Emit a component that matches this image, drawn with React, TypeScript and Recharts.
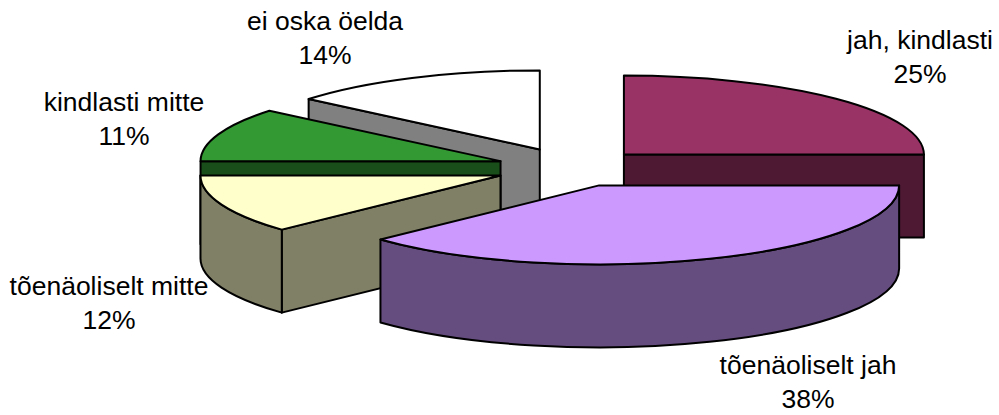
import { PieChart, Pie } from 'recharts';

const categories = ['jah, kindlasti', 'tõenäoliselt jah', 'tõenäoliselt mitte', 'kindlasti mitte', 'ei oska öelda'];
const shares = [25, 38, 12, 11, 14];

// painter's order, back to front
const DRAW_ORDER = [4, 0, 3, 2, 1];
const TOP_COLORS = ['#993366', '#cc99ff', '#ffffcc', '#339933', '#ffffff'];
const WALL_COLORS = ['#4d1933', '#664d80', '#808066', '#194d19', '#808080'];
const EXPLODE = [72, 71, 78, 77, 78];
const LABEL_X = [920, 808, 109, 124, 325];
const LABEL_Y = [49, 374, 295, 111, 30];

const TILT = 79 / 300;
const DEPTH = 83;
const STROKE = 2;
const RAD = Math.PI / 180;

const data = categories.map((name, i) => ({ name, value: shares[i], idx: i }));

function renderSlice(props: any, layer: number) {
  const idx = props.idx ?? props.payload?.idx;
  if (idx !== layer) return <g />;
  const { cx, cy, outerRadius: R, startAngle, endAngle } = props;
  const mid = ((startAngle + endAngle) / 2) * RAD;
  const ax = cx + EXPLODE[idx] * Math.cos(mid);
  const ay = cy - EXPLODE[idx] * Math.sin(mid) * TILT;
  const pt = (deg: number, drop = 0) => [ax + R * Math.cos(deg * RAD), ay - R * TILT * Math.sin(deg * RAD) + drop];
  const p = (c: number[]) => `${c[0].toFixed(2)} ${c[1].toFixed(2)}`;
  const ry = (R * TILT).toFixed(2);
  const apex = [ax, ay];
  const apexLow = [ax, ay + DEPTH];
  const radialWall = (deg: number) =>
    `M${p(apex)} L${p(pt(deg))} L${p(pt(deg, DEPTH))} L${p(apexLow)} Z`;

  const walls: string[] = [];
  // the start wall faces the viewer on the left half, the end wall on the right half
  if (Math.cos(startAngle * RAD) < -0.001 || idx === 4) walls.push(radialWall(startAngle));
  if (Math.cos(endAngle * RAD) > 0.001) walls.push(radialWall(endAngle));

  // outer rim, front half only
  const from = Math.min(startAngle, 0);
  const to = Math.max(endAngle, -180);
  if (from > to) {
    walls.push(
      `M${p(pt(from))} A${R} ${ry} 0 0 1 ${p(pt(to))} L${p(pt(to, DEPTH))} A${R} ${ry} 0 0 0 ${p(pt(from, DEPTH))} Z`
    );
  }

  const large = startAngle - endAngle > 180 ? 1 : 0;
  const top = `M${p(apex)} L${p(pt(startAngle))} A${R} ${ry} 0 ${large} 1 ${p(pt(endAngle))} Z`;

  return (
    <g>
      {walls.map((d, i) => (
        <path key={i} d={d} fill={WALL_COLORS[idx]} stroke="#000" strokeWidth={STROKE} strokeLinejoin="round" />
      ))}
      <path d={top} fill={TOP_COLORS[idx]} stroke="#000" strokeWidth={STROKE} strokeLinejoin="round" />
    </g>
  );
}

function renderLabel(props: any) {
  const i = props.index;
  return (
    <text
      key={i}
      textAnchor="middle"
      fontFamily="'Liberation Sans', Arial, sans-serif"
      fontSize={26.5}
      fill="#000"
    >
      <tspan x={LABEL_X[i]} y={LABEL_Y[i]}>{categories[i]}</tspan>
      <tspan x={LABEL_X[i]} y={LABEL_Y[i] + 34}>{`${shares[i]}%`}</tspan>
    </text>
  );
}

export default function App() {
  return (
    <div style={{ width: 999, height: 415, background: '#fff' }}>
      <style>{'body{margin:0}'}</style>
      <PieChart width={999} height={415} margin={{ top: 0, right: 0, bottom: 0, left: 0 }}>
        {DRAW_ORDER.map((layer, n) => (
          <Pie
            key={layer}
            data={data}
            dataKey="value"
            nameKey="name"
            cx={573}
            cy={168}
            outerRadius={300}
            startAngle={90}
            endAngle={-270}
            isAnimationActive={false}
            shape={(props: any) => renderSlice(props, layer)}
            labelLine={false}
            label={n === DRAW_ORDER.length - 1 ? renderLabel : false}
          />
        ))}
      </PieChart>
    </div>
  );
}
